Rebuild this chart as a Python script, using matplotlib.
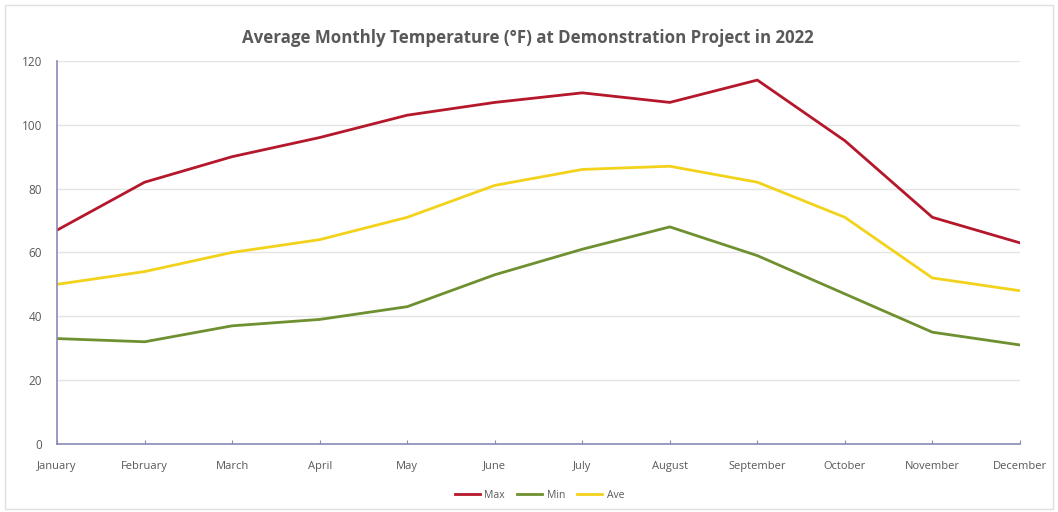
import matplotlib.pyplot as plt
from matplotlib.patches import Rectangle

months = ["January", "February", "March", "April", "May", "June",
          "July", "August", "September", "October", "November", "December"]
maxTemp = [67, 82, 90, 96, 103, 107, 110, 107, 114, 95, 71, 63]
minTemp = [33, 32, 37, 39, 43, 53, 61, 68, 59, 47, 35, 31]
aveTemp = [50, 54, 60, 64, 71, 81, 86, 87, 82, 71, 52, 48]
yTicks = [0, 20, 40, 60, 80, 100, 120]

plt.rcParams['font.family'] = ['Open Sans', 'DejaVu Sans']

fig = plt.figure(figsize=(10.58, 5.12), dpi=100)
ax = fig.add_axes([0.054, 0.133, 0.910, 0.748])

x = list(range(len(months)))
ax.plot(x, maxTemp, color="#B5172B", lw=2.0, label="Max")
ax.plot(x, minTemp, color="#6E9030", lw=2.0, label="Min")
ax.plot(x, aveTemp, color="#F2D21A", lw=2.0, label="Ave")

ax.set_xlim(0, len(months) - 1)
ax.set_ylim(0, 120)
ax.set_yticks(yTicks)
ax.set_xticks(x)
ax.set_xticklabels(months)
ax.grid(axis="y", color="#E4E4E4", lw=1.0)
ax.set_axisbelow(True)

for s in ["top", "right"]:
    ax.spines[s].set_visible(False)
ax.spines["left"].set_color("#8A8AB8")
ax.spines["bottom"].set_color("#8A8AB8")
ax.spines["left"].set_linewidth(1.2)
ax.spines["bottom"].set_linewidth(1.2)

ax.tick_params(axis="y", length=0, labelsize=8.5, labelcolor="#595959", pad=11)
ax.tick_params(axis="x", length=3, direction="in", color="#8A8AB8",
               labelsize=8, labelcolor="#595959", pad=12)

fig.text(0.499, 0.926, "Average Monthly Temperature (°F) at Demonstration Project in 2022",
         ha="center", va="center", fontsize=12.2, fontweight="bold", color="#595959")

fig.legend(loc="center", bbox_to_anchor=(0.51, 0.033), ncol=3, frameon=False,
           fontsize=7.5, labelcolor="#595959", handlelength=2.4, handletextpad=0.4,
           columnspacing=1.2)

fig.patches.append(Rectangle((0.005, 0.005), 0.99, 0.985, transform=fig.transFigure,
                             fill=False, edgecolor="#E0E0E0", lw=1.0))

plt.savefig("out.png", dpi=100)
